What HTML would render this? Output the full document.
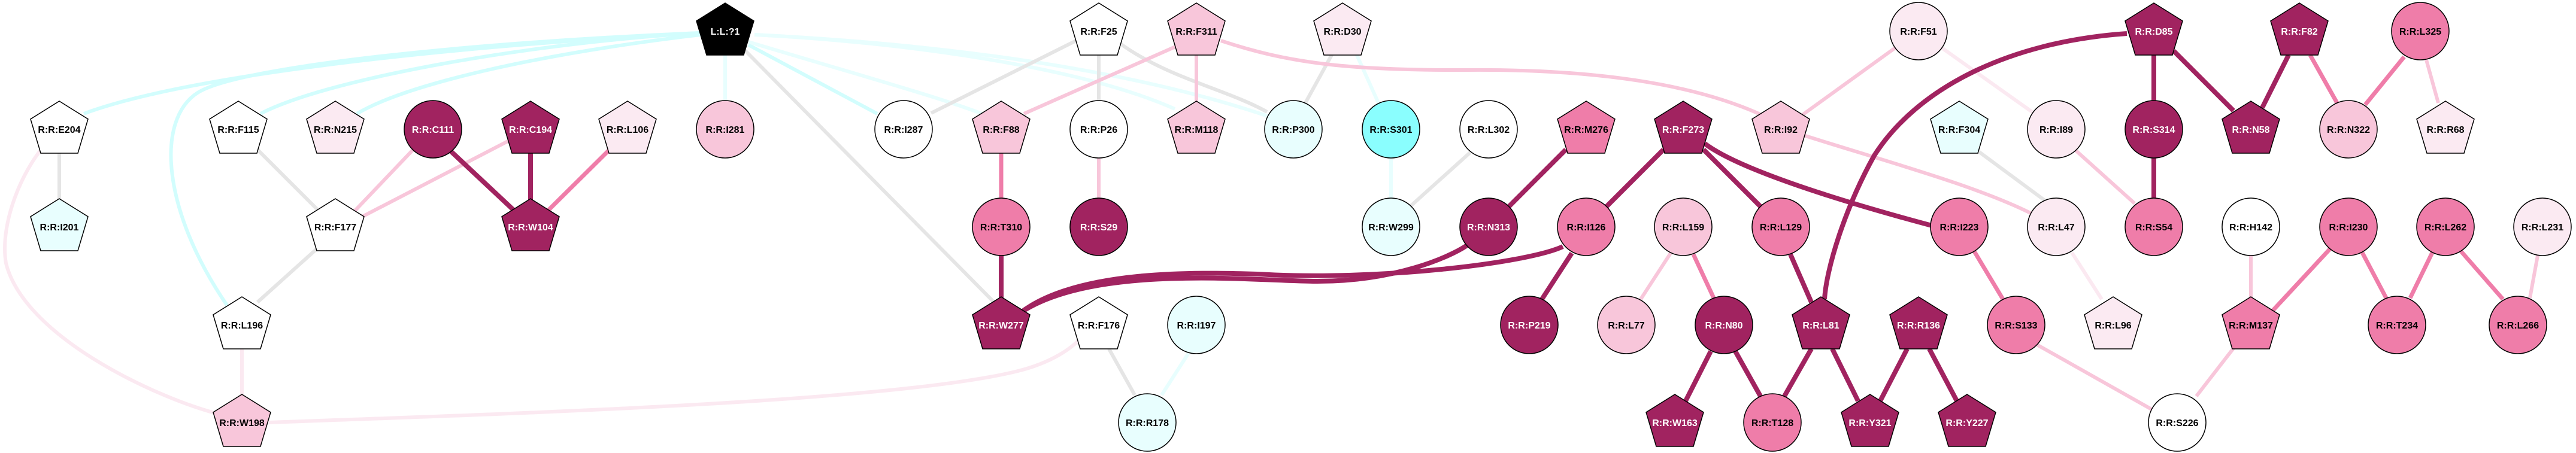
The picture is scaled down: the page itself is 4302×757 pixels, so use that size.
<!DOCTYPE html>
<html><head><meta charset="utf-8"><style>
html,body{margin:0;padding:0;background:#fff;}
svg{display:block;}
text{font-family:"Liberation Sans",Arial,sans-serif;font-weight:bold;font-size:16px;text-anchor:middle;}
.n{stroke:#000;stroke-width:1.5;}
.e{fill:none;stroke-linecap:butt;}
.D{stroke:#A12360;stroke-width:8}
.M{stroke:#EF7DA9;stroke-width:7}
.L{stroke:#F8C6DA;stroke-width:6}
.V{stroke:#FBE9F1;stroke-width:6}
.G{stroke:#E5E5E5;stroke-width:6}
.C{stroke:#D2FDFD;stroke-width:6}
.c{stroke:#E8FEFE;stroke-width:6}
</style></head><body>
<svg width="4302" height="757" viewBox="0 0 4302 757" xmlns="http://www.w3.org/2000/svg">
<g class="e">
<path class="C" d="M1170,55 C700,80 300,130 140,190"/>
<path class="C" d="M1170,55 C900,70 550,130 435,190"/>
<path class="C" d="M1170,58 C900,90 680,140 596,190"/>
<path class="C" d="M1170,55 C800,70 400,110 330,155 C260,200 270,350 379,510"/>
<path class="c" d="M1211,92 L1211,170"/>
<path class="C" d="M1250,75 L1465,190"/>
<path class="c" d="M1250,70 C1450,130 1560,160 1640,190"/>
<path class="c" d="M1260,58 C1500,70 1800,110 1962,182"/>
<path class="c" d="M1260,58 C1600,75 1900,120 2120,195"/>
<path class="G" d="M1240,80 L1660,505"/>
<path class="G" d="M99,256 L99,335"/>
<path class="G" d="M430,250 L530,350"/>
<path class="G" d="M530,415 L430,505"/>
<path class="G" d="M1797,68 L1555,189"/>
<path class="G" d="M1835,92 L1835,168"/>
<path class="G" d="M1871,73 C1950,130 2050,150 2116,187"/>
<path class="G" d="M2225,90 L2180,172"/>
<path class="G" d="M2455,255 L2355,345"/>
<path class="G" d="M3300,250 L3415,335"/>
<path class="G" d="M1852,583 L1895,660"/>
<path class="c" d="M2265,90 L2302,172"/>
<path class="c" d="M2323,264 L2323,331"/>
<path class="c" d="M1985,590 L1940,660"/>
<path class="V" d="M67,252 C30,300 0,380 10,440 C40,560 250,660 358,690"/>
<path class="V" d="M404,583 L404,660"/>
<path class="V" d="M449,706 C900,690 1500,670 1700,620 C1760,605 1790,580 1800,570"/>
<path class="V" d="M3243,80 L3395,188"/>
<path class="V" d="M3460,422 L3510,500"/>
<path class="L" d="M690,250 L590,355"/>
<path class="L" d="M850,235 L605,362"/>
<path class="L" d="M1963,78 L1710,190"/>
<path class="L" d="M1998,92 L1998,170"/>
<path class="L" d="M2039,68 C2150,105 2250,118 2450,117 C2700,115 2850,150 2942,192"/>
<path class="L" d="M3012,226 C3150,270 3300,310 3395,358"/>
<path class="L" d="M3165,80 L3010,192"/>
<path class="L" d="M1835,264 L1835,331"/>
<path class="L" d="M3465,250 L3565,340"/>
<path class="L" d="M2790,423 L2740,500"/>
<path class="L" d="M4052,100 L4072,172"/>
<path class="L" d="M3759,427 L3759,500"/>
<path class="L" d="M3730,582 L3668,662"/>
<path class="L" d="M3400,575 L3595,685"/>
<path class="L" d="M4238,427 L4225,498"/>
<path class="M" d="M1018,250 L912,355"/>
<path class="M" d="M1672,256 L1672,331"/>
<path class="M" d="M2828,425 L2862,498"/>
<path class="M" d="M3858,92 L3903,172"/>
<path class="M" d="M4015,95 L3950,175"/>
<path class="M" d="M3297,420 L3345,500"/>
<path class="M" d="M3892,415 L3790,525"/>
<path class="M" d="M3945,422 L3985,498"/>
<path class="M" d="M4062,422 L4025,498"/>
<path class="M" d="M4110,420 L4180,500"/>
<path class="D" d="M750,250 L862,355"/>
<path class="D" d="M886,256 L886,335"/>
<path class="D" d="M1672,427 L1672,500"/>
<path class="D" d="M1705,522 C1830,440 2100,470 2200,470 C2330,470 2420,430 2450,410"/>
<path class="D" d="M1705,522 C1800,450 2000,455 2100,458 C2300,470 2550,440 2610,412"/>
<path class="D" d="M2615,250 L2520,345"/>
<path class="D" d="M2778,250 L2683,345"/>
<path class="D" d="M2845,250 L2940,345"/>
<path class="D" d="M2847,240 C2900,280 3050,330 3230,378"/>
<path class="D" d="M2625,423 L2575,500"/>
<path class="D" d="M2857,587 L2815,670"/>
<path class="D" d="M2898,587 L2940,662"/>
<path class="D" d="M2990,425 L3025,505"/>
<path class="D" d="M3025,583 L2980,662"/>
<path class="D" d="M3060,583 L3103,670"/>
<path class="D" d="M3185,583 L3140,670"/>
<path class="D" d="M3222,583 L3268,670"/>
<path class="D" d="M3552,56 C3350,70 3200,150 3130,260 C3080,350 3050,450 3047,500"/>
<path class="D" d="M3597,92 L3597,170"/>
<path class="D" d="M3630,85 L3730,185"/>
<path class="D" d="M3822,92 L3778,180"/>
<path class="D" d="M3597,264 L3597,331"/>
</g>
<g class="n">
<polygon points="0,-47 48,-17 31,40 -31,40 -48,-17" transform="translate(99,216)" fill="#fff"/>
<polygon points="0,-47 48,-17 31,40 -31,40 -48,-17" transform="translate(99,379)" fill="#E8FEFE"/>
<polygon points="0,-47 48,-17 31,40 -31,40 -48,-17" transform="translate(398,216)" fill="#fff"/>
<polygon points="0,-47 48,-17 31,40 -31,40 -48,-17" transform="translate(560,216)" fill="#FBEAF2"/>
<circle cx="723" cy="216" r="48" fill="#A12360"/>
<polygon points="0,-47 48,-17 31,40 -31,40 -48,-17" transform="translate(886,216)" fill="#A12360"/>
<polygon points="0,-47 48,-17 31,40 -31,40 -48,-17" transform="translate(1048,216)" fill="#FBEAF2"/>
<polygon points="0,-47 48,-17 31,40 -31,40 -48,-17" transform="translate(560,379)" fill="#fff"/>
<polygon points="0,-47 48,-17 31,40 -31,40 -48,-17" transform="translate(886,379)" fill="#A12360"/>
<polygon points="0,-47 48,-17 31,40 -31,40 -48,-17" transform="translate(404,543)" fill="#fff"/>
<polygon points="0,-47 48,-17 31,40 -31,40 -48,-17" transform="translate(404,706)" fill="#F8C6DA"/>
<polygon points="0,-47 48,-17 31,40 -31,40 -48,-17" transform="translate(1211,52)" fill="#000"/>
<circle cx="1211" cy="216" r="48" fill="#F8C6DA"/>
<circle cx="1509" cy="216" r="48" fill="#fff"/>
<polygon points="0,-47 48,-17 31,40 -31,40 -48,-17" transform="translate(1672,216)" fill="#F8C6DA"/>
<circle cx="1835" cy="216" r="48" fill="#fff"/>
<polygon points="0,-47 48,-17 31,40 -31,40 -48,-17" transform="translate(1835,52)" fill="#fff"/>
<polygon points="0,-47 48,-17 31,40 -31,40 -48,-17" transform="translate(1998,52)" fill="#F8C6DA"/>
<polygon points="0,-47 48,-17 31,40 -31,40 -48,-17" transform="translate(1998,216)" fill="#F8C6DA"/>
<circle cx="1672" cy="379" r="48" fill="#EF7DA9"/>
<circle cx="1835" cy="379" r="48" fill="#A12360"/>
<polygon points="0,-47 48,-17 31,40 -31,40 -48,-17" transform="translate(1672,543)" fill="#A12360"/>
<polygon points="0,-47 48,-17 31,40 -31,40 -48,-17" transform="translate(1835,543)" fill="#fff"/>
<circle cx="1998" cy="543" r="48" fill="#E8FEFE"/>
<circle cx="1916" cy="706" r="48" fill="#E8FEFE"/>
<polygon points="0,-47 48,-17 31,40 -31,40 -48,-17" transform="translate(2242,52)" fill="#FBEAF2"/>
<circle cx="2160" cy="216" r="48" fill="#E8FEFE"/>
<circle cx="2323" cy="216" r="48" fill="#8AFEFE"/>
<circle cx="2486" cy="216" r="48" fill="#fff"/>
<polygon points="0,-47 48,-17 31,40 -31,40 -48,-17" transform="translate(2649,216)" fill="#EF7DA9"/>
<polygon points="0,-47 48,-17 31,40 -31,40 -48,-17" transform="translate(2811,216)" fill="#A12360"/>
<polygon points="0,-47 48,-17 31,40 -31,40 -48,-17" transform="translate(2974,216)" fill="#F8C6DA"/>
<circle cx="3204" cy="52" r="48" fill="#FBEAF2"/>
<circle cx="2323" cy="379" r="48" fill="#E8FEFE"/>
<circle cx="2486" cy="379" r="48" fill="#A12360"/>
<circle cx="2649" cy="379" r="48" fill="#EF7DA9"/>
<circle cx="2811" cy="379" r="48" fill="#F8C6DA"/>
<circle cx="2974" cy="379" r="48" fill="#EF7DA9"/>
<circle cx="2554" cy="543" r="48" fill="#A12360"/>
<circle cx="2716" cy="543" r="48" fill="#F8C6DA"/>
<circle cx="2879" cy="543" r="48" fill="#A12360"/>
<polygon points="0,-47 48,-17 31,40 -31,40 -48,-17" transform="translate(3041,543)" fill="#A12360"/>
<polygon points="0,-47 48,-17 31,40 -31,40 -48,-17" transform="translate(3204,543)" fill="#A12360"/>
<polygon points="0,-47 48,-17 31,40 -31,40 -48,-17" transform="translate(2797,706)" fill="#A12360"/>
<circle cx="2960" cy="706" r="48" fill="#EF7DA9"/>
<polygon points="0,-47 48,-17 31,40 -31,40 -48,-17" transform="translate(3123,706)" fill="#A12360"/>
<polygon points="0,-47 48,-17 31,40 -31,40 -48,-17" transform="translate(3285,706)" fill="#A12360"/>
<polygon points="0,-47 48,-17 31,40 -31,40 -48,-17" transform="translate(3597,52)" fill="#A12360"/>
<polygon points="0,-47 48,-17 31,40 -31,40 -48,-17" transform="translate(3840,52)" fill="#A12360"/>
<circle cx="4042" cy="52" r="48" fill="#EF7DA9"/>
<polygon points="0,-47 48,-17 31,40 -31,40 -48,-17" transform="translate(3272,216)" fill="#E8FEFE"/>
<circle cx="3434" cy="216" r="48" fill="#FBEAF2"/>
<circle cx="3597" cy="216" r="48" fill="#A12360"/>
<polygon points="0,-47 48,-17 31,40 -31,40 -48,-17" transform="translate(3759,216)" fill="#A12360"/>
<circle cx="3922" cy="216" r="48" fill="#F8C6DA"/>
<polygon points="0,-47 48,-17 31,40 -31,40 -48,-17" transform="translate(4084,216)" fill="#FBEAF2"/>
<circle cx="3272" cy="379" r="48" fill="#EF7DA9"/>
<circle cx="3434" cy="379" r="48" fill="#FBEAF2"/>
<circle cx="3597" cy="379" r="48" fill="#EF7DA9"/>
<circle cx="3759" cy="379" r="48" fill="#fff"/>
<circle cx="3922" cy="379" r="48" fill="#EF7DA9"/>
<circle cx="4084" cy="379" r="48" fill="#EF7DA9"/>
<circle cx="4246" cy="379" r="48" fill="#FBEAF2"/>
<circle cx="3367" cy="543" r="48" fill="#EF7DA9"/>
<polygon points="0,-47 48,-17 31,40 -31,40 -48,-17" transform="translate(3529,543)" fill="#FBEAF2"/>
<polygon points="0,-47 48,-17 31,40 -31,40 -48,-17" transform="translate(3759,543)" fill="#EF7DA9"/>
<circle cx="4003" cy="543" r="48" fill="#EF7DA9"/>
<circle cx="4205" cy="543" r="48" fill="#EF7DA9"/>
<circle cx="3636" cy="706" r="48" fill="#fff"/>
</g>
<g fill="#000">
<text x="99" y="222">R:R:E204</text>
<text x="99" y="385">R:R:I201</text>
<text x="398" y="222">R:R:F115</text>
<text x="560" y="222">R:R:N215</text>
<text x="723" y="222" fill="#fff">R:R:C111</text>
<text x="886" y="222" fill="#fff">R:R:C194</text>
<text x="1048" y="222">R:R:L106</text>
<text x="560" y="385">R:R:F177</text>
<text x="886" y="385" fill="#fff">R:R:W104</text>
<text x="404" y="549">R:R:L196</text>
<text x="404" y="712">R:R:W198</text>
<text x="1211" y="58" fill="#fff">L:L:?1</text>
<text x="1211" y="222">R:R:I281</text>
<text x="1509" y="222">R:R:I287</text>
<text x="1672" y="222">R:R:F88</text>
<text x="1835" y="222">R:R:P26</text>
<text x="1835" y="58">R:R:F25</text>
<text x="1998" y="58">R:R:F311</text>
<text x="1998" y="222">R:R:M118</text>
<text x="1672" y="385">R:R:T310</text>
<text x="1835" y="385" fill="#fff">R:R:S29</text>
<text x="1672" y="549" fill="#fff">R:R:W277</text>
<text x="1835" y="549">R:R:F176</text>
<text x="1998" y="549">R:R:I197</text>
<text x="1916" y="712">R:R:R178</text>
<text x="2242" y="58">R:R:D30</text>
<text x="2160" y="222">R:R:P300</text>
<text x="2323" y="222">R:R:S301</text>
<text x="2486" y="222">R:R:L302</text>
<text x="2649" y="222">R:R:M276</text>
<text x="2811" y="222" fill="#fff">R:R:F273</text>
<text x="2974" y="222">R:R:I92</text>
<text x="3204" y="58">R:R:F51</text>
<text x="2323" y="385">R:R:W299</text>
<text x="2486" y="385" fill="#fff">R:R:N313</text>
<text x="2649" y="385">R:R:I126</text>
<text x="2811" y="385">R:R:L159</text>
<text x="2974" y="385">R:R:L129</text>
<text x="2554" y="549" fill="#fff">R:R:P219</text>
<text x="2716" y="549">R:R:L77</text>
<text x="2879" y="549" fill="#fff">R:R:N80</text>
<text x="3041" y="549" fill="#fff">R:R:L81</text>
<text x="3204" y="549" fill="#fff">R:R:R136</text>
<text x="2797" y="712" fill="#fff">R:R:W163</text>
<text x="2960" y="712">R:R:T128</text>
<text x="3123" y="712" fill="#fff">R:R:Y321</text>
<text x="3285" y="712" fill="#fff">R:R:Y227</text>
<text x="3597" y="58" fill="#fff">R:R:D85</text>
<text x="3840" y="58" fill="#fff">R:R:F82</text>
<text x="4042" y="58">R:R:L325</text>
<text x="3272" y="222">R:R:F304</text>
<text x="3434" y="222">R:R:I89</text>
<text x="3597" y="222" fill="#fff">R:R:S314</text>
<text x="3759" y="222" fill="#fff">R:R:N58</text>
<text x="3922" y="222">R:R:N322</text>
<text x="4084" y="222">R:R:R68</text>
<text x="3272" y="385">R:R:I223</text>
<text x="3434" y="385">R:R:L47</text>
<text x="3597" y="385">R:R:S54</text>
<text x="3759" y="385">R:R:H142</text>
<text x="3922" y="385">R:R:I230</text>
<text x="4084" y="385">R:R:L262</text>
<text x="4246" y="385">R:R:L231</text>
<text x="3367" y="549">R:R:S133</text>
<text x="3529" y="549">R:R:L96</text>
<text x="3759" y="549">R:R:M137</text>
<text x="4003" y="549">R:R:T234</text>
<text x="4205" y="549">R:R:L266</text>
<text x="3636" y="712">R:R:S226</text>
</g>
</svg>
</body></html>
